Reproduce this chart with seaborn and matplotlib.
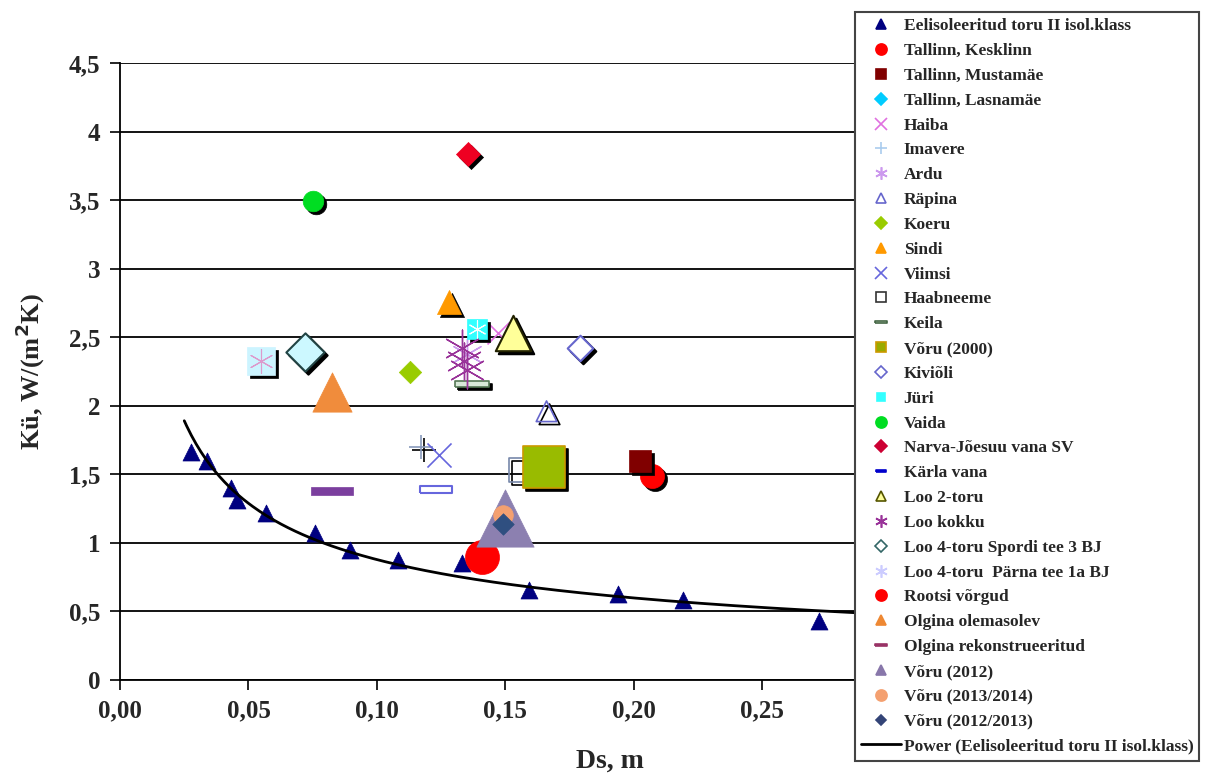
import matplotlib
matplotlib.use("Agg")
import matplotlib.pyplot as plt
import matplotlib.transforms as mtransforms
from matplotlib.lines import Line2D
import seaborn as sns
import numpy as np

# data (Ds, m  ->  Kü, W/(m2K))
names = [
    "Eelisoleeritud toru II isol.klass", "Tallinn, Kesklinn", "Tallinn, Mustamäe",
    "Tallinn, Lasnamäe", "Haiba", "Imavere", "Ardu", "Räpina", "Koeru", "Sindi",
    "Viimsi", "Haabneeme", "Keila", "Võru (2000)", "Kiviõli", "Jüri", "Vaida",
    "Narva-Jõesuu vana SV", "Kärla vana", "Loo 2-toru", "Loo kokku",
    "Loo 4-toru Spordi tee 3 BJ", "Loo 4-toru  Pärna tee 1a BJ", "Rootsi võrgud",
    "Olgina olemasolev", "Olgina rekonstrueeritud", "Võru (2012)",
    "Võru (2013/2014)", "Võru (2012/2013)",
]
ds = [
    [0.0276, 0.034, 0.043, 0.0455, 0.057, 0.076, 0.0895, 0.108, 0.133, 0.159, 0.194, 0.219, 0.272],
    [0.207], [0.2025], [0.139], [0.147], [0.117], [0.135], [0.166], [0.113], [0.128],
    [0.124], [0.156], [0.137], [0.165], [0.179], [0.139], [0.075],
    [0.1355], [0.123], [0.153], [0.133, 0.134, 0.135], [0.072], [0.055], [0.141],
    [0.0825], [0.0825], [0.150], [0.149], [0.149],
]
ku = [
    [1.66, 1.60, 1.40, 1.31, 1.22, 1.07, 0.95, 0.875, 0.85, 0.66, 0.63, 0.58, 0.43],
    [1.49], [1.60], [2.56], [2.53], [1.70], [2.38], [1.96], [2.25], [2.76],
    [1.64], [1.53], [2.16], [1.55], [2.42], [2.56], [3.49],
    [3.84], [1.39], [2.53], [2.42, 2.33, 2.26], [2.39], [2.33], [0.90],
    [2.10], [1.38], [1.18], [1.20], [1.14],
]

wide_box = [(-1, -0.22), (1, -0.22), (1, 0.22), (-1, 0.22), (-1, -0.22)]
thin_bar = [(-1, -0.18), (1, -0.18), (1, 0.18), (-1, 0.18), (-1, -0.18)]
star = (6, 2, 0)

# plot style: marker, size, face, edge, linewidth, shadow
plot_style = {
    "Eelisoleeritud toru II isol.klass": ("^", 150, "#000080", "#000080", 0.5, False),
    "Tallinn, Kesklinn": ("o", 300, "#ff0000", "#ff0000", 0.5, True),
    "Tallinn, Mustamäe": ("s", 260, "#800000", "#800000", 0.5, True),
    "Tallinn, Lasnamäe": ("D", 90, "#00ccff", "#00ccff", 0.5, False),
    "Haiba": ("x", 250, "#e070e0", "#e070e0", 1.2, False),
    "Imavere": ("+", 300, "#8899bb", "#8899bb", 1.2, True),
    "Ardu": (star, 500, "#cc99ee", "#cc99ee", 1.0, False),
    "Räpina": ("^", 220, "none", "#6666cc", 1.2, True),
    "Koeru": ("D", 130, "#99cc00", "#99cc00", 0.5, False),
    "Sindi": ("^", 300, "#ff9900", "#ff9900", 0.5, True),
    "Viimsi": ("x", 300, "#6666dd", "#6666dd", 1.2, False),
    "Haabneeme": ("s", 300, "none", "#7788aa", 1.2, True),
    "Keila": (thin_bar, 600, "#d8e8d8", "#557755", 1.2, True),
    "Võru (2000)": ("s", 950, "#99bb00", "#cc9900", 1.2, True),
    "Kiviõli": ("D", 170, "white", "#6666cc", 1.5, True),
    "Jüri": ("s", 200, "#33ffff", "#33ffff", 0.5, True),
    "Vaida": ("o", 220, "#00dd22", "#00dd22", 0.5, True),
    "Narva-Jõesuu vana SV": ("D", 150, "#ee0022", "#ee0022", 0.5, True),
    "Kärla vana": (wide_box, 560, "none", "#6666dd", 1.5, False),
    "Loo 2-toru": ("^", 650, "#ffff99", "#222200", 1.5, True),
    "Loo kokku": (star, 700, "#993399", "#993399", 1.0, False),
    "Loo 4-toru Spordi tee 3 BJ": ("D", 380, "#ccf8ff", "#224444", 1.5, True),
    "Loo 4-toru  Pärna tee 1a BJ": ("s", 380, "#ccf4ff", "#ccf4ff", 0.5, True),
    "Rootsi võrgud": ("o", 600, "#ff0000", "#ff0000", 0.5, False),
    "Olgina olemasolev": ("^", 800, "#f08c3c", "#f08c3c", 0.5, False),
    "Olgina rekonstrueeritud": (thin_bar, 950, "#7b3f9e", "#7b3f9e", 0.5, False),
    "Võru (2012)": ("^", 1700, "#8c80b0", "#8c80b0", 0.5, False),
    "Võru (2013/2014)": ("o", 200, "#f4a070", "#f4a070", 0.5, False),
    "Võru (2012/2013)": ("D", 120, "#2f4f80", "#2f4f80", 0.5, False),
}

# legend style: marker, size, face, edge
legend_style = {
    "Eelisoleeritud toru II isol.klass": ("^", 7, "#000080", "#000080"),
    "Tallinn, Kesklinn": ("o", 8, "#ff0000", "#ff0000"),
    "Tallinn, Mustamäe": ("s", 7, "#800000", "#800000"),
    "Tallinn, Lasnamäe": ("D", 6, "#00ccff", "#00ccff"),
    "Haiba": ("x", 8, "#e070e0", "#e070e0"),
    "Imavere": ("+", 9, "#aaccee", "#aaccee"),
    "Ardu": (star, 9, "#cc99ee", "#cc99ee"),
    "Räpina": ("^", 7, "none", "#6666cc"),
    "Koeru": ("D", 6, "#99cc00", "#99cc00"),
    "Sindi": ("^", 7, "#ff9900", "#ff9900"),
    "Viimsi": ("x", 8, "#6666dd", "#6666dd"),
    "Haabneeme": ("s", 7, "none", "#333333"),
    "Keila": (thin_bar, 9, "#d8e8d8", "#446644"),
    "Võru (2000)": ("s", 7, "#99aa00", "#cc9900"),
    "Kiviõli": ("D", 6, "none", "#6666cc"),
    "Jüri": ("s", 6, "#33ffff", "#33ffff"),
    "Vaida": ("o", 8, "#00dd22", "#00dd22"),
    "Narva-Jõesuu vana SV": ("D", 6, "#cc0033", "#cc0033"),
    "Kärla vana": (thin_bar, 7, "#0000cc", "#0000cc"),
    "Loo 2-toru": ("^", 7, "#ffff99", "#555500"),
    "Loo kokku": (star, 9, "#993399", "#993399"),
    "Loo 4-toru Spordi tee 3 BJ": ("D", 6, "none", "#336666"),
    "Loo 4-toru  Pärna tee 1a BJ": (star, 9, "#ccccff", "#ccccff"),
    "Rootsi võrgud": ("o", 8, "#ff0000", "#ff0000"),
    "Olgina olemasolev": ("^", 7, "#ee8833", "#ee8833"),
    "Olgina rekonstrueeritud": (thin_bar, 9, "#993366", "#993366"),
    "Võru (2012)": ("^", 7, "#8877aa", "#8877aa"),
    "Võru (2013/2014)": ("o", 8, "#f4a070", "#f4a070"),
    "Võru (2012/2013)": ("D", 5, "#334477", "#334477"),
}

sns.set_theme(style="white")
plt.rcParams["font.family"] = ["Liberation Serif", "DejaVu Serif"]
plt.rcParams["font.weight"] = "bold"

fig = plt.figure(figsize=(12.1, 7.76), dpi=100)
ax = fig.add_axes([0.0992, 0.1237, 0.637, 0.7951])

shadow = ax.transData + mtransforms.ScaledTranslation(3 / 100, -3 / 100, fig.dpi_scale_trans)

for i, name in enumerate(names):
    marker, s, fc, ec, lw, shad = plot_style[name]
    z = 3 + i * 0.1
    if shad:
        sns.scatterplot(x=ds[i], y=ku[i], marker=marker, s=s, color="black",
                        edgecolor="black", linewidth=lw, transform=shadow,
                        ax=ax, legend=False, zorder=z)
        if fc == "none":
            ax.collections[-1].set_facecolor("none")
    col = ec if fc == "none" else fc
    sns.scatterplot(x=ds[i], y=ku[i], marker=marker, s=s, color=col,
                    edgecolor=ec, linewidth=lw, ax=ax, legend=False, zorder=z + 0.05)
    if fc == "none":
        ax.collections[-1].set_facecolor("none")
    if name == "Jüri":
        sns.scatterplot(x=ds[i], y=ku[i], marker=star, s=160, color="white",
                        linewidth=0.8, ax=ax, legend=False, zorder=z + 0.06)
    if name == "Loo 4-toru  Pärna tee 1a BJ":
        sns.scatterplot(x=ds[i], y=ku[i], marker=star, s=300, color="#dd99cc",
                        linewidth=0.8, ax=ax, legend=False, zorder=z + 0.06)

# power trendline fitted on the pre-insulated pipe series
b, loga = np.polyfit(np.log(ds[0]), np.log(ku[0]), 1)
xs = np.linspace(0.025, 0.30, 300)
sns.lineplot(x=xs, y=np.exp(loga) * xs ** b, color="black", linewidth=2, ax=ax, zorder=6)

ax.set_xlim(0, 0.30)
ax.set_ylim(0, 4.5)
ax.set_xticks(np.arange(0, 0.301, 0.05))
ax.set_yticks(np.arange(0, 4.51, 0.5))
ax.set_xticklabels([f"{v:.2f}".replace(".", ",") for v in np.arange(0, 0.301, 0.05)])
ax.set_yticklabels([f"{v:g}".replace(".", ",") for v in np.arange(0, 4.51, 0.5)])
ax.tick_params(axis="both", which="major", labelsize=18, direction="out",
               length=7, width=1.2, color="black", left=True, bottom=True, pad=7)
for lab in ax.get_xticklabels() + ax.get_yticklabels():
    lab.set_fontweight("bold")
ax.yaxis.grid(True, color="black", linewidth=1.3)
ax.xaxis.grid(False)
ax.set_axisbelow(True)
for side in ["top", "right"]:
    ax.spines[side].set_visible(False)
for side in ["left", "bottom"]:
    ax.spines[side].set_color("black")
    ax.spines[side].set_linewidth(1.3)

ax.set_xlabel("Ds, m", fontsize=20, fontweight="bold")
ax.xaxis.set_label_coords(0.636, -0.112)
ax.set_ylabel("Kü, W/(m$\\mathbf{^2}$K)", fontsize=19, fontweight="bold")
ax.yaxis.set_label_coords(-0.095, 0.5)

handles = []
for name in names:
    m, ms, fc, ec = legend_style[name]
    handles.append(Line2D([], [], linestyle="none", marker=m, markersize=ms,
                          markerfacecolor=fc, markeredgecolor=ec, markeredgewidth=1.2,
                          label=name))
handles.append(Line2D([], [], color="black", linewidth=2,
                      label="Power (Eelisoleeritud toru II isol.klass)"))

leg = fig.legend(handles=handles, loc="upper left", bbox_to_anchor=(0.7066, 0.9845),
                 frameon=True, fancybox=False, framealpha=1, edgecolor="#444444",
                 prop={"family": ["Liberation Serif"], "weight": "bold", "size": 12.5},
                 handlelength=2.3, handletextpad=0.15, labelspacing=0.5,
                 borderpad=0.35, borderaxespad=0)
leg.get_frame().set_linewidth(1.5)

fig.savefig("out.png", dpi=100)
